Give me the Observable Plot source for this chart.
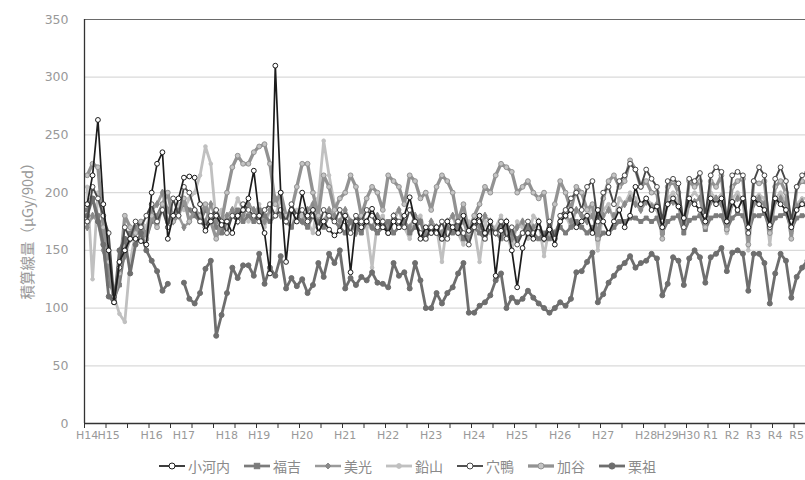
<!DOCTYPE html>
<html><head><meta charset="utf-8">
<script src="https://cdn.jsdelivr.net/npm/d3@7"></script>
<script src="https://cdn.jsdelivr.net/npm/@observablehq/plot@0.6"></script>
<style>
html,body{margin:0;padding:0;background:#fff;}
#chart{width:805px;height:480px;overflow:hidden;font-family:"Noto Sans CJK JP","Noto Sans",sans-serif;}
#legend{display:flex;justify-content:center;align-items:center;height:28px;gap:14px;font-size:14px;color:#8a8a8a;padding-left:10px;}
.item{display:flex;align-items:center;gap:3px;}
</style></head><body><div id="chart"></div>
<script>
// Year labels and number of measurement points in each year
const yearLabels = ["H14","H15","H16","H17","H18","H19","H20","H21","H22","H23","H24","H25","H26","H27","H28","H29","H30","R1","R2","R3","R4","R5"];
const pointsPerYear = [4,8,6,8,6,8,8,8,8,8,8,8,8,8,4,4,4,4,4,4,4,4];

const seriesNames = ["小河内","福吉","美光","鉛山","穴鴨","加谷","栗祖"];

const kawachi = [
190,215,263,190,150,105,140,150,
160,160,158,155,200,225,235,160,
180,195,213,214,213,190,167,175,
180,172,175,165,180,185,195,219,
180,165,130,310,200,140,185,175,
200,180,185,165,175,168,163,167,
180,131,175,170,175,186,175,170,
165,175,170,180,196,175,160,170,
165,170,160,175,170,165,180,167,
175,180,165,175,128,167,175,150,
118,152,165,160,175,160,168,155,
175,180,185,170,175,180,165,185,
175,165,175,185,170,180,205,190,
195,185,188,170,190,195,188,178,
195,190,185,175,195,190,195,175,
192,185,195,170,195,190,185,172,
195,190,185,170,185,190,188,185];

const fukuyoshi = [
185,195,180,160,130,108,120,150,
165,170,165,160,175,180,190,175,
180,185,190,185,180,175,185,180,
170,165,175,180,185,175,180,175,
185,180,175,180,185,175,170,180,
175,170,180,175,170,180,175,170,
165,175,170,165,175,170,165,170,
175,165,170,175,165,170,175,160,
170,165,160,170,165,170,160,165,
170,165,160,170,165,160,170,165,
160,165,170,165,160,165,160,165,
170,165,170,175,170,165,170,160,
165,165,170,175,175,178,178,175,
178,175,178,165,175,178,180,165,
176,178,180,168,178,180,180,168,
178,182,180,165,180,180,182,168,
178,180,182,168,178,180,180,178];

const mitsu = [
170,180,175,150,120,115,130,145,
160,165,170,165,185,190,200,185,
175,180,170,175,185,180,175,190,
175,170,180,185,175,180,190,185,
180,175,185,195,180,175,185,180,
175,185,190,180,175,185,180,175,
185,175,165,180,175,170,180,175,
170,180,185,175,170,180,175,165,
175,170,165,175,180,170,175,160,
175,170,180,175,165,170,175,160,
170,175,165,170,175,160,170,165,
175,180,175,185,180,175,180,165,
180,185,180,185,190,195,190,185,
192,188,190,170,190,192,188,168,
190,192,195,172,192,195,190,170,
190,195,192,165,190,195,190,168,
192,195,190,170,188,192,190,188];

const namariyama = [
205,125,200,175,140,110,95,88,
140,165,175,170,185,190,200,175,
180,190,185,195,200,215,240,225,
175,185,170,180,195,185,175,180,
190,170,185,180,195,175,170,185,
180,175,165,195,245,215,190,185,
175,165,180,175,170,135,175,180,
165,175,185,170,160,175,180,165,
175,170,140,175,180,165,155,175,
170,140,175,165,170,180,165,150,
175,170,160,180,175,145,170,165,
175,180,170,185,180,175,190,150,
185,190,175,195,190,200,195,185,
195,190,185,165,195,200,190,165,
195,200,195,170,200,195,198,165,
195,200,192,150,195,198,195,155,
195,200,192,165,190,195,195,192];

const anakamo = [
175,205,195,180,165,110,135,170,
160,175,170,180,190,175,185,170,
195,180,205,200,185,175,170,180,
185,175,165,180,175,190,185,180,
175,185,190,180,185,175,190,180,
185,175,180,170,185,180,175,185,
175,165,180,175,185,180,170,175,
165,180,175,170,185,175,165,160,
170,165,175,160,170,175,165,155,
170,175,160,170,165,175,160,170,
155,165,175,165,170,160,175,160,
180,185,195,200,185,205,210,175,
200,205,190,210,215,225,220,205,
220,212,205,175,210,212,208,170,
212,210,217,180,215,222,218,175,
215,218,215,165,210,222,215,170,
212,222,210,175,205,215,218,210];

const kaya = [
215,225,222,170,140,105,130,180,
170,165,175,160,180,170,190,200,
175,180,195,175,185,180,190,175,
160,175,200,222,232,225,225,235,
240,242,225,190,200,180,185,205,
225,225,200,180,215,205,185,195,
200,215,205,180,195,205,200,185,
215,210,205,190,215,210,195,200,
185,205,215,210,200,175,190,165,
180,190,205,200,215,225,222,218,
200,205,210,200,195,200,165,190,
210,200,185,205,200,185,190,160,
195,210,215,205,210,228,220,205,
210,200,200,160,205,210,200,170,
210,205,210,170,210,205,215,168,
205,210,212,155,210,208,210,165,
205,210,200,160,205,210,208,205];

const kuriso = [
180,195,175,155,110,105,150,160,
130,155,165,150,141,132,115,121,
null,null,122,108,104,113,134,141,
76,94,113,135,126,137,137,128,
147,121,135,128,145,117,126,119,
125,113,120,139,127,147,139,150,
117,126,120,127,124,131,122,121,
118,139,128,131,117,139,124,100,
100,113,104,113,118,130,139,96,
96,102,105,111,124,130,100,109,
105,108,115,109,104,100,96,100,
105,102,108,131,132,140,148,105,
112,122,128,135,139,145,135,139,
141,147,143,111,121,144,141,120,
143,150,144,122,144,147,152,132,
148,150,147,115,147,147,139,104,
130,147,141,109,127,135,141,138];

const seriesValues = [kawachi, fukuyoshi, mitsu, namariyama, anakamo, kaya, kuriso];
const yTicks = [0,50,100,150,200,250,300,350];
const yLabel = "積算線量（μGy/90d）";

// ---- styles ----
const styles = {
  "小河内": {stroke:"#1c1c1c", w:1.7, symbol:"circle", fill:"#fff", ms:"#1c1c1c", r:2.4},
  "福吉":   {stroke:"#7b7b7b", w:2.7, symbol:"square", fill:"#7b7b7b", ms:"#7b7b7b", r:2.2},
  "美光":   {stroke:"#9a9a9a", w:2.5, symbol:"diamond", fill:"#8a8a8a", ms:"#8a8a8a", r:2.2},
  "鉛山":   {stroke:"#c0c0c0", w:2.8, symbol:"circle", fill:"#c0c0c0", ms:"#c0c0c0", r:1.8},
  "穴鴨":   {stroke:"#484848", w:1.9, symbol:"circle", fill:"#fff", ms:"#484848", r:2.4},
  "加谷":   {stroke:"#929292", w:3.3, symbol:"circle", fill:"#c4c4c4", ms:"#929292", r:2.4},
  "栗祖":   {stroke:"#6e6e6e", w:2.8, symbol:"circle", fill:"#6e6e6e", ms:"#6e6e6e", r:2.5}
};
const drawOrder = ["鉛山","美光","福吉","加谷","栗祖","穴鴨","小河内"];

const total = d3.sum(pointsPerYear);
const starts = [];
pointsPerYear.reduce((acc, n) => { starts.push(acc); return acc + n; }, 0);
const labelPos = starts.map(s => s + 0.5);
const labelOf = new Map(labelPos.map((p, k) => [p, yearLabels[k]]));
const boundaries = d3.range(0, total + 1, 4);

const rows = [];
seriesNames.forEach((name, k) => {
  seriesValues[k].forEach((v, i) => rows.push({series: name, i, v}));
});

const seriesMarks = drawOrder.flatMap(name => {
  const st = styles[name];
  const data = rows.filter(d => d.series === name);
  return [
    Plot.line(data, {x: d => d.i + 0.5, y: "v", stroke: st.stroke, strokeWidth: st.w, strokeLinejoin: "round"}),
    Plot.dot(data.filter(d => d.v != null), {x: d => d.i + 0.5, y: "v", symbol: st.symbol, r: st.r, fill: st.fill, stroke: st.ms, strokeWidth: 1})
  ];
});

const plot = Plot.plot({
  width: 805, height: 452,
  marginLeft: 84, marginRight: -10, marginTop: 19, marginBottom: 29,
  style: {fontFamily: "'DejaVu Sans', sans-serif", fontSize: "12px", color: "#999", background: "#fff", overflow: "hidden"},
  x: {domain: [0, total], axis: null},
  y: {domain: [0, 350], axis: null},
  marks: [
    Plot.ruleY(yTicks.filter(t => t > 0 && t < 350), {stroke: "#dadada", strokeWidth: 1.3}),
    Plot.ruleY([350], {stroke: "#6a6a6a", strokeWidth: 1}),
    ...seriesMarks,
    Plot.ruleY([0], {stroke: "#333", strokeWidth: 1.3}),
    Plot.ruleX([0], {y1: 0, y2: 350, stroke: "#333", strokeWidth: 1.3}),
    Plot.axisY({ticks: yTicks, tickSize: 0, tickPadding: 16, fontSize: 12.5, label: null}),
    Plot.axisX({ticks: boundaries, tickSize: 5, tickFormat: () => "", stroke: "#333", label: null}),
    Plot.axisX({ticks: labelPos, tickSize: 0, tickPadding: 8, tickFormat: d => labelOf.get(d), fontSize: 11, label: null}),
    Plot.text([yLabel], {frameAnchor: "left", dx: -56, dy: 6, rotate: -90, textAnchor: "middle", fontSize: 14.5, fill: "#999", fontFamily: "'Noto Sans CJK JP', sans-serif"})
  ]
});

const chart = document.getElementById("chart");
chart.appendChild(plot);

// legend
const legend = document.createElement("div");
legend.id = "legend";
seriesNames.forEach(name => {
  const st = styles[name];
  const item = document.createElement("span");
  item.className = "item";
  let marker;
  if (st.symbol === "square") marker = `<rect x="${13-st.r-0.5}" y="${6-st.r-0.5}" width="${2*st.r+1}" height="${2*st.r+1}" fill="${st.fill}" stroke="${st.ms}"/>`;
  else if (st.symbol === "diamond") marker = `<path d="M13,3 L16,6 L13,9 L10,6 Z" fill="${st.fill}" stroke="${st.ms}"/>`;
  else marker = `<circle cx="13" cy="6" r="${st.r + 0.6}" fill="${st.fill}" stroke="${st.ms}"/>`;
  item.innerHTML = `<svg width="26" height="12"><line x1="0" x2="26" y1="6" y2="6" stroke="${st.stroke}" stroke-width="${st.w}"/>${marker}</svg><span>${name}</span>`;
  legend.appendChild(item);
});
chart.appendChild(legend);
</script>
</body></html>
